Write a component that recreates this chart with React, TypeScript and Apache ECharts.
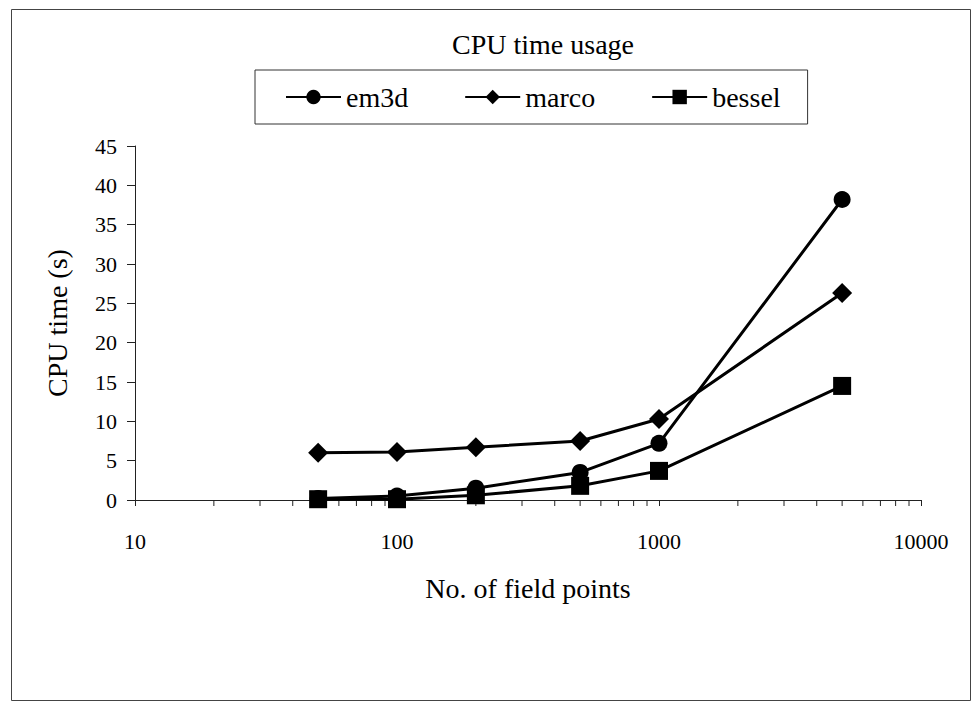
import React, { useEffect, useRef } from "react";
import * as echarts from "echarts";

const fieldPoints = [50, 100, 200, 500, 1000, 5000];
const em3d = [0.2, 0.5, 1.5, 3.5, 7.2, 38.2];
const marco = [6.0, 6.1, 6.7, 7.5, 10.3, 26.3];
const bessel = [0.1, 0.1, 0.6, 1.8, 3.7, 14.5];
const seriesNames = ["em3d", "marco", "bessel"];
const xMinorTicks = [
  20, 30, 40, 50, 60, 70, 80, 90,
  200, 300, 400, 500, 600, 700, 800, 900,
  2000, 3000, 4000, 5000, 6000, 7000, 8000, 9000,
];

const FONT = "Liberation Serif";

export default function App() {
  const ref = useRef<HTMLDivElement>(null);
  useEffect(() => {
    if (!ref.current) return;
    const chart = echarts.init(ref.current, null, { renderer: "svg" });
    const lineSeries = (name: string, vals: number[], symbol: string, size: number) => ({
      name,
      type: "line",
      data: fieldPoints.map((x, i) => [x, vals[i]]),
      symbol,
      symbolSize: size,
      lineStyle: { color: "#000", width: 3 },
      itemStyle: { color: "#000" },
      z: 3,
    });
    const legendText = {
      fontFamily: FONT,
      fontSize: 28,
      color: "#000",
      rich: { s: { fontFamily: FONT, fontSize: 28, color: "#000" } },
    };
    chart.setOption({
      animation: false,
      backgroundColor: "#fff",
      textStyle: { fontFamily: FONT, color: "#000" },
      title: {
        text: "CPU time usage",
        left: 452,
        top: 30,
        padding: 0,
        textStyle: { fontFamily: FONT, fontSize: 28, fontWeight: "normal", color: "#000" },
      },
      legend: {
        data: seriesNames,
        formatter: (name: string) => "{s|" + name + "}",
        left: 255,
        top: 70,
        orient: "horizontal",
        itemWidth: 55,
        itemHeight: 18,
        itemGap: 56,
        padding: [13, 27, 13, 30],
        borderColor: "#333",
        borderWidth: 1,
        textStyle: legendText,
      },
      grid: { left: 135, right: 52, top: 146, bottom: 206, containLabel: false },
      xAxis: {
        type: "log",
        logBase: 10,
        min: 10,
        max: 10000,
        name: "No. of field points",
        nameLocation: "middle",
        nameGap: 74,
        nameTextStyle: { fontFamily: FONT, fontSize: 28, color: "#000" },
        axisLine: { show: true, lineStyle: { color: "#222", width: 1 } },
        axisTick: { show: true, inside: false, length: 6, lineStyle: { color: "#222" } },
        axisLabel: {
          fontFamily: FONT,
          fontSize: 22,
          color: "#000",
          margin: 30,
          formatter: (v: number) => String(Math.round(v)),
        },
        splitLine: { show: false },
      },
      yAxis: {
        type: "value",
        min: 0,
        max: 45,
        interval: 5,
        name: "CPU time (s)",
        nameLocation: "middle",
        nameGap: 64,
        nameTextStyle: { fontFamily: FONT, fontSize: 28, color: "#000" },
        axisLine: { show: true, lineStyle: { color: "#222", width: 1 } },
        axisTick: { show: true, inside: false, length: 8, lineStyle: { color: "#222" } },
        axisLabel: { fontFamily: FONT, fontSize: 22, color: "#000", margin: 18 },
        splitLine: { show: false },
      },
      graphic: [
        {
          type: "rect",
          shape: { x: 11.5, y: 9.5, width: 959, height: 691 },
          style: { fill: "none", stroke: "#444", lineWidth: 1 },
          silent: true,
          z: -10,
        },
      ],
      series: [
        lineSeries("em3d", em3d, "circle", 17),
        lineSeries("marco", marco, "diamond", 20),
        lineSeries("bessel", bessel, "rect", 18),
        {
          name: "minorTicks",
          type: "custom",
          silent: true,
          clip: false,
          z: 1,
          data: xMinorTicks.map((v) => [v, 0]),
          encode: { x: 0, y: 1 },
          renderItem: (_params: any, api: any) => {
            const p = api.coord([api.value(0), 0]);
            return {
              type: "line",
              shape: { x1: p[0], y1: p[1], x2: p[0], y2: p[1] + 6 },
              style: { stroke: "#222", lineWidth: 1 },
            };
          },
        },
      ],
    });
    return () => chart.dispose();
  }, []);
  return (
    <div
      ref={ref}
      style={{ position: "absolute", left: 0, top: 0, width: 973, height: 706 }}
    />
  );
}
